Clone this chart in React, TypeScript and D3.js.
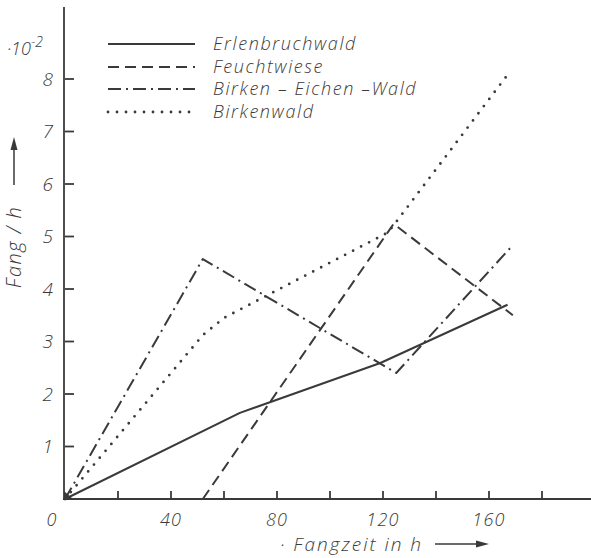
import React from 'react';
import * as d3 from 'd3';

// Fangzeit (h) vs. Fang / h (·10^-2)
const erlenbruchwald: [number, number][] = [[0, 0], [66, 1.64], [119, 2.59], [167, 3.7]];
const feuchtwiese: [number, number][] = [[52, 0], [124, 5.24], [169, 3.5]];
const birkenEichenWald: [number, number][] = [[0, 0], [52, 4.57], [125, 2.4], [168, 4.78]];
const birkenwald: [number, number][] = [[0, 0], [52, 3.12], [60, 3.45], [122, 5.08], [167, 8.08]];

const seriesNames = ['Erlenbruchwald', 'Feuchtwiese', 'Birken – Eichen –Wald', 'Birkenwald'];
const xTicks = [20, 40, 60, 80, 100, 120, 140, 160, 180];
const xLabels = [40, 80, 120, 160];
const yTicks = [1, 2, 3, 4, 5, 6, 7, 8];

const W = 591;
const H = 558;
const INK = '#3a3a3a';
const FONT = '"Open Sans", "DejaVu Sans", sans-serif';

const styles = [
  { dash: undefined, width: 2, cap: 'butt' },
  { dash: '11,6', width: 2, cap: 'butt' },
  { dash: '13,5,2,5', width: 2, cap: 'butt' },
  { dash: '0,9', width: 2.8, cap: 'round' },
];

const App: React.FC = () => {
  const x = d3.scaleLinear().domain([0, 180]).range([65, 542]);
  const y = d3.scaleLinear().domain([0, 8]).range([499, 79]);
  const line = d3.line<[number, number]>().x(d => x(d[0])).y(d => y(d[1]));
  const data = [erlenbruchwald, feuchtwiese, birkenEichenWald, birkenwald];

  const legendY = [44, 67, 89, 112];

  return (
    <svg
      width={W}
      height={H}
      style={{ position: 'absolute', left: 0, top: 0, background: '#fff' }}
      fontFamily={FONT}
      fontStyle="italic"
      fontWeight={300}
    >
      {/* axes */}
      <line x1={x(0) - 1} y1={7} x2={x(0) - 1} y2={y(0)} stroke={INK} strokeWidth={1.8} />
      <line x1={x(0) - 2} y1={y(0)} x2={W} y2={y(0)} stroke={INK} strokeWidth={1.8} />

      {yTicks.map(t => (
        <g key={`y${t}`}>
          <line x1={x(0)} x2={x(0) + 9} y1={y(t)} y2={y(t)} stroke={INK} strokeWidth={1.8} />
          <text x={53} y={y(t)} dy="0.36em" textAnchor="end" fontSize={19} fill={INK}>{t}</text>
        </g>
      ))}
      <text x={7} y={55} fontSize={18} fill={INK}>
        ·10<tspan dy={-8} fontSize={14}>-2</tspan>
      </text>

      {xTicks.map(t => (
        <line key={`x${t}`} x1={x(t)} x2={x(t)} y1={y(0)} y2={y(0) - 8} stroke={INK} strokeWidth={1.8} />
      ))}
      <text x={52} y={526} textAnchor="middle" fontSize={18} fill={INK} letterSpacing={1}>0</text>
      {xLabels.map(t => (
        <text key={`xl${t}`} x={x(t)} y={526} textAnchor="middle" fontSize={18} fill={INK} letterSpacing={1.2}>{t}</text>
      ))}

      {/* axis titles */}
      <text x={280} y={551} fontSize={19} fill={INK} letterSpacing={2}>
        · Fangzeit in h
      </text>
      <line x1={435} x2={478} y1={544} y2={544} stroke={INK} strokeWidth={1.5} />
      <path d="M476,540.5 L489,544 L476,547.5 Z" fill={INK} />

      <text transform="translate(21,247) rotate(-90)" textAnchor="middle" fontSize={20} fill={INK} letterSpacing={1.5}>
        Fang / h
      </text>
      <line x1={14} x2={14} y1={185} y2={148} stroke={INK} strokeWidth={1.5} />
      <path d="M10.5,150 L14,137 L17.5,150 Z" fill={INK} />

      {/* data lines */}
      {data.map((d, i) => (
        <path
          key={`s${i}`}
          d={line(d) ?? ''}
          fill="none"
          stroke={INK}
          strokeWidth={styles[i].width}
          strokeDasharray={styles[i].dash}
          strokeLinecap={styles[i].cap as 'butt' | 'round'}
          strokeLinejoin="round"
        />
      ))}
      <path d="M64,491 L73,499 L64,500 Z" fill={INK} />

      {/* legend */}
      {seriesNames.map((name, i) => (
        <g key={`lg${i}`}>
          <line
            x1={108}
            x2={195}
            y1={legendY[i]}
            y2={legendY[i]}
            stroke={INK}
            strokeWidth={styles[i].width}
            strokeDasharray={styles[i].dash}
            strokeLinecap={styles[i].cap as 'butt' | 'round'}
          />
          <text x={213} y={legendY[i]} dy="0.36em" fontSize={18} fill={INK} letterSpacing={1.6}>{name}</text>
        </g>
      ))}
    </svg>
  );
};

export default App;
